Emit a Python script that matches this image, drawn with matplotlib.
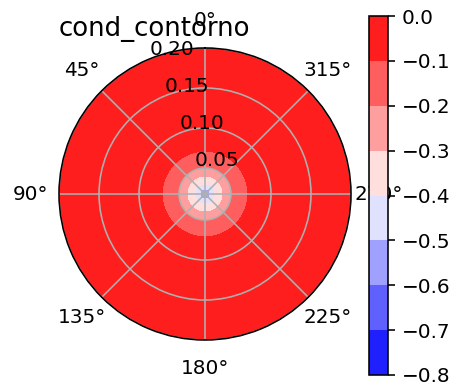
import numpy as np
import matplotlib
matplotlib.use("Agg")
import matplotlib.pyplot as plt

# Radial profile of the field (axisymmetric)
r_prof = [0.0175, 0.02375, 0.030, 0.040, 0.051, 0.071, 0.200]
v_prof = [-0.62, -0.50, -0.40, -0.30, -0.20, -0.10, -0.02]
levels = [-0.8, -0.7, -0.6, -0.5, -0.4, -0.3, -0.2, -0.1, 0.0]
theta_ticks = [0, 45, 90, 135, 180, 225, 270, 315]
r_ticks = [0.05, 0.10, 0.15, 0.20]
title = "cond_contorno"

theta = np.linspace(0, 2 * np.pi, 361)
R, T = np.meshgrid(np.array(r_prof), theta)
Z = np.tile(np.array(v_prof), (len(theta), 1))

fig = plt.figure(figsize=(456 / 144, 384 / 144), dpi=144)
ax = fig.add_axes([59 / 456, 44 / 384, 292 / 456, 292 / 384], projection="polar")
cf = ax.contourf(T, R, Z, levels=levels, cmap="bwr")
ax.set_theta_zero_location("N")
ax.set_thetagrids(theta_ticks)
ax.set_rlim(r_prof[0], r_prof[-1])
ax.set_rticks(r_ticks)
ax.grid(True)
ax.set_title(title, loc="left", y=1.0, pad=6, fontsize=13)

cax = fig.add_axes([369 / 456, 9 / 384, 19 / 456, 359 / 384])
cb = fig.colorbar(cf, cax=cax)
cb.set_ticks(levels)

fig.savefig("out.png", dpi=144)
